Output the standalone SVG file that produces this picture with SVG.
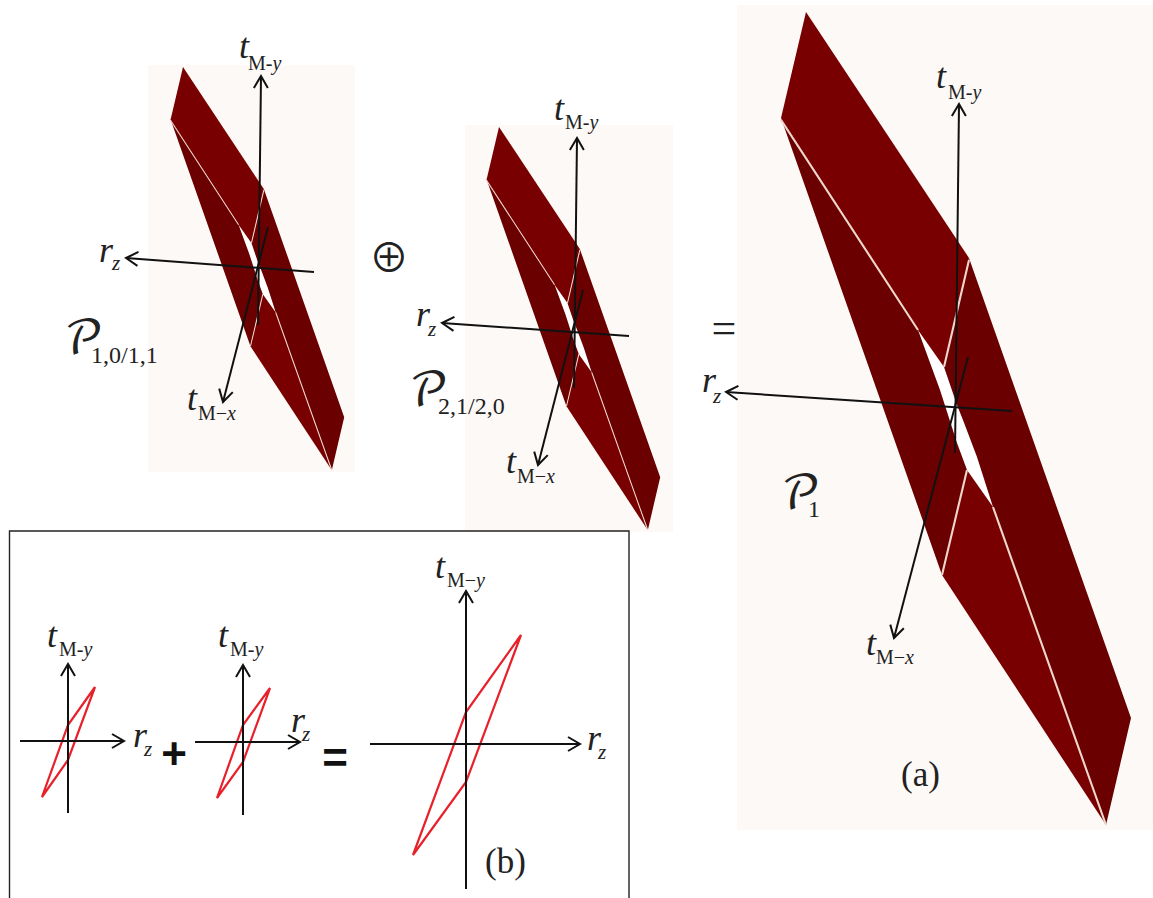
<svg xmlns="http://www.w3.org/2000/svg" xmlns:xlink="http://www.w3.org/1999/xlink" width="1153" height="898" viewBox="0 0 1153 898">
<style>
text{font-family:"Liberation Serif","Times New Roman",serif;fill:#222}
.t{font-size:36px;font-style:italic}
.r{font-size:36px;font-style:italic}
.z{font-size:21px;font-style:italic}
.s{font-size:20px;font-style:normal}
.i{font-style:italic}
.n{font-size:24px;font-family:"Liberation Serif",serif}
.p{font-family:"DejaVu Math TeX Gyre","DejaVu Serif",serif;font-size:47px;font-style:normal}
.c{font-size:35px}
.bg{fill:#fdf9f7}
.b{fill:#780000}
.d{fill:#6a0000}
.w{fill:none;stroke:#efd6cc;stroke-width:2.1}
.ax{fill:none;stroke:#111;stroke-width:2;marker-end:url(#ah)}
.red{fill:none;stroke:#e8202a;stroke-width:2.2;stroke-linejoin:miter}
</style>
<defs>
<marker id="ah" markerUnits="userSpaceOnUse" markerWidth="20" markerHeight="20" refX="15" refY="10" orient="auto">
<path d="M3,3 L15,10 L3,17" fill="none" stroke="#111" stroke-width="2"/>
</marker>
<g id="band">
<polygon fill="#fff" points="918,330 944,367 957,405 977,457 993,507 967,470 957,443 940,390"/>
<polygon class="d" points="781,118 918,330 940,390 957,443 967,470 942,575"/>
<polygon class="d" points="969,258 1131,718 1106,825 993,507 977,457 963,420 957,405 944,367"/>
<polygon class="b" points="806,12 969,258 944,367 918,330 781,118"/>
<polygon class="b" points="942,575 967,470 993,507 1106,825"/>
<path class="w" d="M781,120 L918,330 M969,260 L944,367 M967,470 L942,575 M993,507 L1106,825"/>
</g>
</defs>

<g id="panel-left">
<rect class="bg" x="148" y="65" width="207" height="407"/>
<use xlink:href="#band" href="#band" transform="translate(183 67) scale(0.496) translate(-806 -12)"/>
<text x="239" y="58"><tspan class="t">t</tspan><tspan class="s" x="248" y="70">M-<tspan class="i">y</tspan></tspan></text>
<text x="99" y="262"><tspan class="r">r</tspan><tspan class="z" x="112" y="270">z</tspan></text>
<text x="64" y="354"><tspan class="p">𝒫</tspan><tspan class="n" x="91" y="363">1,0/1,1</tspan></text>
<text x="187" y="410"><tspan class="t">t</tspan><tspan class="s" x="198" y="420">M−<tspan class="i">x</tspan></tspan></text>
</g>

<g id="panel-middle">
<rect class="bg" x="465" y="125" width="208" height="407"/>
<use xlink:href="#band" href="#band" transform="translate(499 127) scale(0.496) translate(-806 -12)"/>
<text x="554" y="120"><tspan class="t">t</tspan><tspan class="s" x="565" y="129">M-<tspan class="i">y</tspan></tspan></text>
<text x="416" y="326"><tspan class="r">r</tspan><tspan class="z" x="428" y="336">z</tspan></text>
<text x="409" y="406"><tspan class="p">𝒫</tspan><tspan class="n" x="438" y="414">2,1/2,0</tspan></text>
<text x="506" y="473"><tspan class="t">t</tspan><tspan class="s" x="517" y="483">M−<tspan class="i">x</tspan></tspan></text>
</g>

<g id="panel-right">
<rect class="bg" x="737" y="5" width="416" height="825"/>
<use xlink:href="#band" href="#band"/>
<text x="936" y="88"><tspan class="t">t</tspan><tspan class="s" x="948" y="99">M-<tspan class="i">y</tspan></tspan></text>
<text x="702" y="392"><tspan class="r">r</tspan><tspan class="z" x="713" y="403">z</tspan></text>
<text x="781" y="509"><tspan class="p">𝒫</tspan><tspan class="n" x="808" y="517">1</tspan></text>
<text x="866" y="655"><tspan class="t">t</tspan><tspan class="s" x="876" y="664">M−<tspan class="i">x</tspan></tspan></text>
<text class="c" x="901" y="786">(a)</text>
</g>

<g id="operators">
<text x="389" y="272" text-anchor="middle" style="font-family:'Noto Sans CJK JP',sans-serif;font-size:40px">⊕</text>
<text x="724" y="343" text-anchor="middle" style="font-size:44px">=</text>
</g>

<g id="box-b">
<path d="M9.5,898 V531 H629 V898" fill="#fff" stroke="#222" stroke-width="1.4"/>
<text x="47" y="647"><tspan class="t">t</tspan><tspan class="s" x="59" y="656">M-<tspan class="i">y</tspan></tspan></text>
<text x="133" y="747"><tspan class="r">r</tspan><tspan class="z" x="144" y="756">z</tspan></text>
<text x="174" y="769" text-anchor="middle" style="font-family:'Liberation Sans',sans-serif;font-weight:bold;font-size:44px;fill:#111">+</text>
<text x="218" y="647"><tspan class="t">t</tspan><tspan class="s" x="230" y="656">M-<tspan class="i">y</tspan></tspan></text>
<text x="291" y="732"><tspan class="r">r</tspan><tspan class="z" x="302" y="741">z</tspan></text>
<text x="335" y="773" text-anchor="middle" style="font-family:'Liberation Sans',sans-serif;font-weight:bold;font-size:44px;fill:#111">=</text>
<text x="435" y="578"><tspan class="t">t</tspan><tspan class="s" x="447" y="587">M−<tspan class="i">y</tspan></tspan></text>
<text x="587" y="750"><tspan class="r">r</tspan><tspan class="z" x="598" y="759">z</tspan></text>
<text class="c" x="485" y="873">(b)</text>
<polygon class="red" points="95,687 68,725 42,797 68,760"/>
<polygon class="red" points="270,688 243,725 217,798 243,762"/>
<polygon class="red" points="521,635 466,712 413,855 466,782"/>
</g>

<g id="connectors">
<path class="ax" d="M258,325 L261,76"/>
<path class="ax" d="M314,272 L126,258"/>
<path class="ax" d="M268,227 L223,402"/>
<path class="ax" d="M574,388 L577,138"/>
<path class="ax" d="M629,336 L442,323"/>
<path class="ax" d="M583,290 L538,465"/>
<path class="ax" d="M955,453 L959,104"/>
<path class="ax" d="M1012,411 L726,392"/>
<path class="ax" d="M968,357 L894,638"/>
<path class="ax" d="M68,813 L68,664"/>
<path class="ax" d="M20,741 L124,741"/>
<path class="ax" d="M243,815 L243,665"/>
<path class="ax" d="M195,742 L300,742"/>
<path class="ax" d="M466,889 L466,591"/>
<path class="ax" d="M370,744 L580,744"/>
</g>
</svg>
